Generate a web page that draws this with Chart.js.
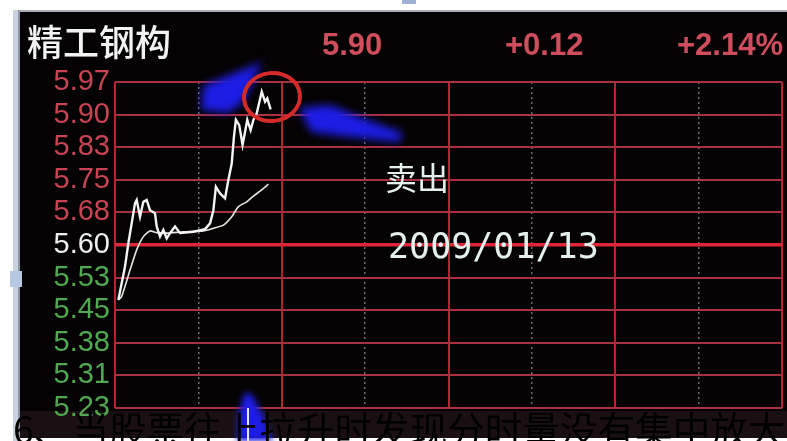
<!DOCTYPE html>
<html>
<head>
<meta charset="utf-8">
<script src="https://cdn.jsdelivr.net/npm/chart.js@4/dist/chart.umd.min.js"></script>
<style>
  html, body { margin: 0; padding: 0; background: #fff; }
  canvas { display: block; }
</style>
</head>
<body>
<canvas id="chart" width="787" height="441"></canvas>
<script>
// minute chart of 精工钢构, first hour of trading
const stockName = '精工钢构';
const quoteTexts = ['5.90', '+0.12', '+2.14%'];
const yTickLabels = ['5.97', '5.90', '5.83', '5.75', '5.68', '5.60', '5.53', '5.45', '5.38', '5.31', '5.23'];
const Y_MIN = 5.23;
const Y_MAX = 5.97;

const priceMinutes = [1.2, 3.6, 4.8, 6.0, 7.2, 7.8, 9.0, 10.2, 11.4, 12.6, 14.4, 15.0, 16.2, 17.4, 18.6, 19.8, 21.6, 23.4, 28.2, 32.4,
    34.2, 35.4, 36.3, 37.8, 39.6, 40.8, 42.0, 42.8, 43.5, 44.7, 45.9, 46.8, 47.6, 48.8, 49.8, 51.0, 52.8, 54.0, 54.8, 56.0];
const priceValues = [5.475, 5.551, 5.604, 5.649, 5.695, 5.702, 5.664, 5.698, 5.702, 5.679, 5.672, 5.642, 5.619, 5.634, 5.615, 5.627, 5.642, 5.627, 5.630, 5.636,
    5.649, 5.679, 5.732, 5.717, 5.706, 5.748, 5.785, 5.846, 5.884, 5.872, 5.827, 5.857, 5.884, 5.861, 5.884, 5.899, 5.948, 5.925, 5.933, 5.908];

const avgMinutes = [1.2, 2.4, 5.4, 7.8, 10.2, 12.6, 15.0, 18.6, 24.6, 31.8, 35.4, 39.0, 42.0, 44.4, 47.4, 49.8, 52.8, 55.2];
const avgValues = [5.475, 5.483, 5.543, 5.589, 5.619, 5.632, 5.628, 5.627, 5.630, 5.632, 5.638, 5.645, 5.664, 5.687, 5.698, 5.711, 5.725, 5.738];

const noteSell = '卖出';
const noteDate = '2009/01/13';
const caption = '6、当股票往上拉升时发现分时量没有集中放大';

const toPoints = (xs, ys) => xs.map((x, i) => ({ x, y: ys[i] }));

function blob(ctx, pts, color, blur) {
    ctx.save();
    ctx.filter = `blur(${blur}px)`;
    ctx.fillStyle = color;
    ctx.beginPath();
    pts.forEach(([x, y], i) => (i === 0 ? ctx.moveTo(x, y) : ctx.lineTo(x, y)));
    ctx.closePath();
    ctx.fill();
    ctx.restore();
}

const backdrop = {
    id: 'backdrop',
    beforeDraw(chart) {
        const ctx = chart.ctx;
        ctx.save();
        ctx.fillStyle = '#ffffff';
        ctx.fillRect(0, 0, 787, 441);
        ctx.fillStyle = '#050203';
        ctx.fillRect(20, 12, 767, 426);
        ctx.fillStyle = '#1a1014';
        ctx.fillRect(20, 411, 767, 27);
        // window frame bits
        ctx.fillStyle = '#a9acb4';
        ctx.fillRect(13, 10, 774, 2);
        ctx.fillStyle = '#c9d2de';
        ctx.fillRect(13, 10, 6, 431);
        ctx.fillStyle = '#8d96a6';
        ctx.fillRect(18, 10, 2, 431);
        ctx.fillStyle = '#b6c8e2';
        ctx.fillRect(10, 271, 12, 16);
        ctx.fillStyle = '#9fb2d4';
        ctx.fillRect(402, 0, 14, 4);

        ctx.textBaseline = 'alphabetic';
        ctx.textAlign = 'left';
        ctx.fillStyle = '#f2f2f2';
        ctx.font = '500 36px "Noto Sans CJK SC"';
        ctx.fillText(stockName, 27, 56);
        ctx.fillStyle = '#cf4d5c';
        ctx.font = 'bold 31px "Liberation Sans"';
        ctx.fillText(quoteTexts[0], 322, 55);
        ctx.fillText(quoteTexts[1], 505, 55);
        ctx.fillText(quoteTexts[2], 677, 55);
        ctx.restore();
    },
    afterDatasetsDraw(chart) {
        const ctx = chart.ctx;
        // blue arrows
        blob(ctx, [[201, 110], [203, 86], [222, 78], [262, 62], [251, 86], [242, 103], [228, 113]], '#1d1de6', 4);
        blob(ctx, [[299, 108], [330, 105], [362, 118], [403, 133], [399, 142], [350, 137], [311, 132]], '#1d1de6', 4);
        blob(ctx, [[245, 392], [252, 395], [263, 415], [273, 441], [237, 441], [239, 412]], '#1d1de6', 3);
        ctx.save();
        ctx.strokeStyle = '#e8e8f4';
        ctx.lineWidth = 2;
        ctx.beginPath();
        ctx.moveTo(248, 408);
        ctx.lineTo(248, 441);
        ctx.stroke();
        // red circle round the top
        ctx.filter = 'blur(0.6px)';
        ctx.strokeStyle = '#d42a2a';
        ctx.lineWidth = 4;
        ctx.beginPath();
        ctx.ellipse(272, 97, 28, 24, -0.1, 0, Math.PI * 2);
        ctx.stroke();
        ctx.filter = 'none';

        ctx.fillStyle = '#e4f0ec';
        ctx.font = '32px "Noto Sans CJK SC"';
        ctx.fillText(noteSell, 385, 190);
        ctx.font = '35px "DejaVu Sans Mono"';
        ctx.fillText(noteDate, 388, 258);
        ctx.restore();
    },
    afterDraw(chart) {
        const ctx = chart.ctx;
        ctx.save();
        ctx.fillStyle = '#000000';
        ctx.font = '37.6px "Noto Sans CJK SC"';
        ctx.textBaseline = 'alphabetic';
        ctx.fillText(caption, 13, 444);
        ctx.restore();
    },
};

new Chart(document.getElementById('chart'), {
    type: 'line',
    data: {
        datasets: [
            {
                data: toPoints(priceMinutes, priceValues),
                borderColor: '#f4f4f4',
                borderWidth: 2.4,
                pointRadius: 0,
                tension: 0,
            },
            {
                data: toPoints(avgMinutes, avgValues),
                borderColor: '#e6e6dc',
                borderWidth: 1.6,
                pointRadius: 0,
                tension: 0.2,
            },
        ],
    },
    options: {
        responsive: false,
        animation: false,
        layout: { padding: { left: 22, top: 82, right: 5, bottom: 33 } },
        plugins: { legend: { display: false }, tooltip: { enabled: false } },
        scales: {
            x: {
                type: 'linear',
                min: 0,
                max: 240,
                ticks: { display: false, stepSize: 30 },
                afterFit: (s) => { s.height = 0; },
                border: { display: false, dash: (c) => (c.index % 2 ? [2, 3] : []) },
                grid: {
                    drawTicks: false,
                    color: (c) => (c.index % 2 ? '#707070' : '#b8222f'),
                    lineWidth: (c) => (c.index % 2 ? 1.5 : 2),
                },
            },
            y: {
                min: Y_MIN,
                max: Y_MAX,
                afterBuildTicks: (s) => {
                    const n = yTickLabels.length - 1;
                    s.ticks = yTickLabels.map((_, i) => ({ value: Y_MIN + (Y_MAX - Y_MIN) * i / n }));
                },
                afterFit: (s) => { s.width = 93; },
                border: { display: false },
                grid: {
                    drawTicks: false,
                    color: (c) => (c.index === 5 ? '#e0263a' : '#a8323f'),
                    lineWidth: (c) => (c.index === 5 ? 3.5 : 2),
                },
                ticks: {
                    autoSkip: false,
                    padding: 5,
                    font: { family: 'Liberation Sans', size: 29 },
                    color: (c) => (c.index < 5 ? '#52a852' : c.index === 5 ? '#eeeeee' : '#c64454'),
                    callback: (v, i) => yTickLabels[yTickLabels.length - 1 - i],
                },
            },
        },
    },
    plugins: [backdrop],
});
</script>
</body>
</html>
